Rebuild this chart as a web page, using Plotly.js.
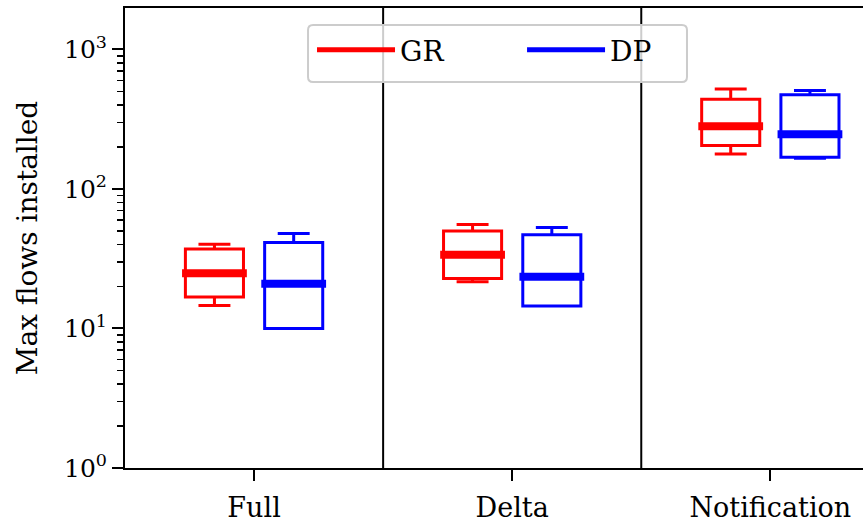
<!DOCTYPE html>
<html>
<head>
<meta charset="utf-8">
<script src="https://cdn.plot.ly/plotly-3.0.1.min.js"></script>
<style>html,body{margin:0;padding:0;background:#fff;}#chart{width:863px;height:525px;}</style>
</head>
<body>
<div id="chart"></div>
<script>
// ---- data ----
var categories = ["Full", "Delta", "Notification"];
var seriesNames = ["GR", "DP"];
var seriesColors = ["#ff0000", "#0000ff"];
// GR
var grLower  = [14.6, 21.6, 178];
var grQ1     = [16.8, 22.8, 205];
var grMedian = [24.9, 33.7, 282];
var grQ3     = [37.1, 49.9, 440];
var grUpper  = [40.2, 55.6, 521];
// DP
var dpLower  = [10.0, 14.5, 166];
var dpQ1     = [10.0, 14.5, 169];
var dpMedian = [20.9, 23.5, 247];
var dpQ3     = [41.3, 46.9, 474];
var dpUpper  = [47.9, 52.9, 507];
// y tick labels
var yTickVals = [1, 10, 100, 1000];
var yTickText = ["10<sup>0</sup>", "10<sup>1</sup>", "10<sup>2</sup>", "10<sup>3</sup>"];

// ---- styling ----
var FONT = "DejaVu Serif";
var offset = 0.1535;
var boxW = 0.225;
var medExt = 0.013;

var stats = [
  {lower: grLower, q1: grQ1, med: grMedian, q3: grQ3, upper: grUpper},
  {lower: dpLower, q1: dpQ1, med: dpMedian, q3: dpQ3, upper: dpUpper}
];

var traces = [];
stats.forEach(function (s, k) {
  var sign = k === 0 ? -1 : 1;
  var xs = categories.map(function (c, i) { return i + sign * offset; });
  traces.push({
    type: "box",
    x: xs,
    q1: s.q1, median: s.med, q3: s.q3,
    lowerfence: s.lower, upperfence: s.upper,
    width: boxW,
    whiskerwidth: 0.55,
    line: {color: seriesColors[k], width: 3},
    fillcolor: "rgba(255,255,255,0)",
    boxpoints: false,
    showlegend: false,
    hoverinfo: "skip"
  });
  // thick median lines
  var mx = [], my = [];
  xs.forEach(function (x, i) {
    mx.push(x - boxW / 2 - medExt, x + boxW / 2 + medExt, null);
    my.push(s.med[i], s.med[i], null);
  });
  traces.push({
    type: "scatter", mode: "lines",
    x: mx, y: my,
    line: {color: seriesColors[k], width: 8},
    showlegend: false, hoverinfo: "skip"
  });
});
// legend entries (one legend per series, inside a common frame)
var legendIds = ["legend", "legend2"];
seriesNames.forEach(function (n, k) {
  traces.push({
    type: "scatter", mode: "lines",
    x: [null], y: [null],
    name: n,
    legend: legendIds[k],
    line: {color: seriesColors[k], width: 5},
    showlegend: true
  });
});

// legend frame geometry (paper coords)
var fx0 = 0.248, fx1 = 0.7615, fyt = 0.9631, fyb = 0.8392, rx = 0.0068, ry = 0.0109;
var framePath =
  "M" + (fx0 + rx) + "," + fyt + " L" + (fx1 - rx) + "," + fyt +
  " Q" + fx1 + "," + fyt + " " + fx1 + "," + (fyt - ry) +
  " L" + fx1 + "," + (fyb + ry) +
  " Q" + fx1 + "," + fyb + " " + (fx1 - rx) + "," + fyb +
  " L" + (fx0 + rx) + "," + fyb +
  " Q" + fx0 + "," + fyb + " " + fx0 + "," + (fyb + ry) +
  " L" + fx0 + "," + (fyt - ry) +
  " Q" + fx0 + "," + fyt + " " + (fx0 + rx) + "," + fyt + " Z";

var shapes = [0.5, 1.5].map(function (x) {
  return {type: "line", xref: "x", yref: "paper", x0: x, x1: x, y0: 0, y1: 1,
          line: {color: "#000", width: 2}, layer: "above"};
});
shapes.push({type: "path", xref: "paper", yref: "paper", path: framePath,
             fillcolor: "rgba(255,255,255,0.8)", line: {color: "#cccccc", width: 2}, layer: "above"});

function legendStyle(x) {
  return {
    orientation: "h",
    x: x, y: 0.963, xanchor: "left", yanchor: "top",
    bgcolor: "rgba(0,0,0,0)", borderwidth: 0,
    font: {family: FONT, size: 28, color: "#000"},
    itemwidth: 78
  };
}

var layout = {
  width: 863, height: 525,
  margin: {l: 125, r: 0, t: 8, b: 57},
  paper_bgcolor: "#fff", plot_bgcolor: "#fff",
  font: {family: FONT, color: "#000", size: 27},
  showlegend: true,
  boxmode: "overlay",
  xaxis: {
    range: [-0.5, 2.359],
    tickmode: "array",
    tickvals: categories.map(function (c, i) { return i; }),
    ticktext: categories,
    ticks: "outside", ticklen: 11, tickwidth: 2, tickcolor: "#000",
    ticklabelstandoff: 4,
    showline: true, linecolor: "#000", linewidth: 2, mirror: true,
    showgrid: false, zeroline: false,
    tickfont: {family: FONT, size: 27, color: "#000"}
  },
  yaxis: {
    type: "log",
    range: [0, 3.297],
    tickmode: "array",
    tickvals: yTickVals,
    ticktext: yTickText,
    ticks: "outside", ticklen: 11, tickwidth: 2, tickcolor: "#000",
    minor: {
      tickmode: "array",
      tickvals: (function () {
        var v = [];
        [1, 10, 100, 1000].forEach(function (d) {
          for (var m = 2; m <= 9; m++) v.push(m * d);
        });
        return v;
      })(),
      ticks: "outside", ticklen: 6, tickwidth: 1.5, tickcolor: "#000", showgrid: false
    },
    showline: true, linecolor: "#000", linewidth: 2, mirror: false,
    showgrid: false, zeroline: false,
    tickfont: {family: FONT, size: 25, color: "#000"},
    title: {text: "Max flows installed", font: {family: FONT, size: 28, color: "#000"}, standoff: 18}
  },
  legend: legendStyle(0.2534),
  legend2: legendStyle(0.538),
  shapes: shapes
};

Plotly.newPlot("chart", traces, layout, {staticPlot: true, displayModeBar: false});
</script>
</body>
</html>
